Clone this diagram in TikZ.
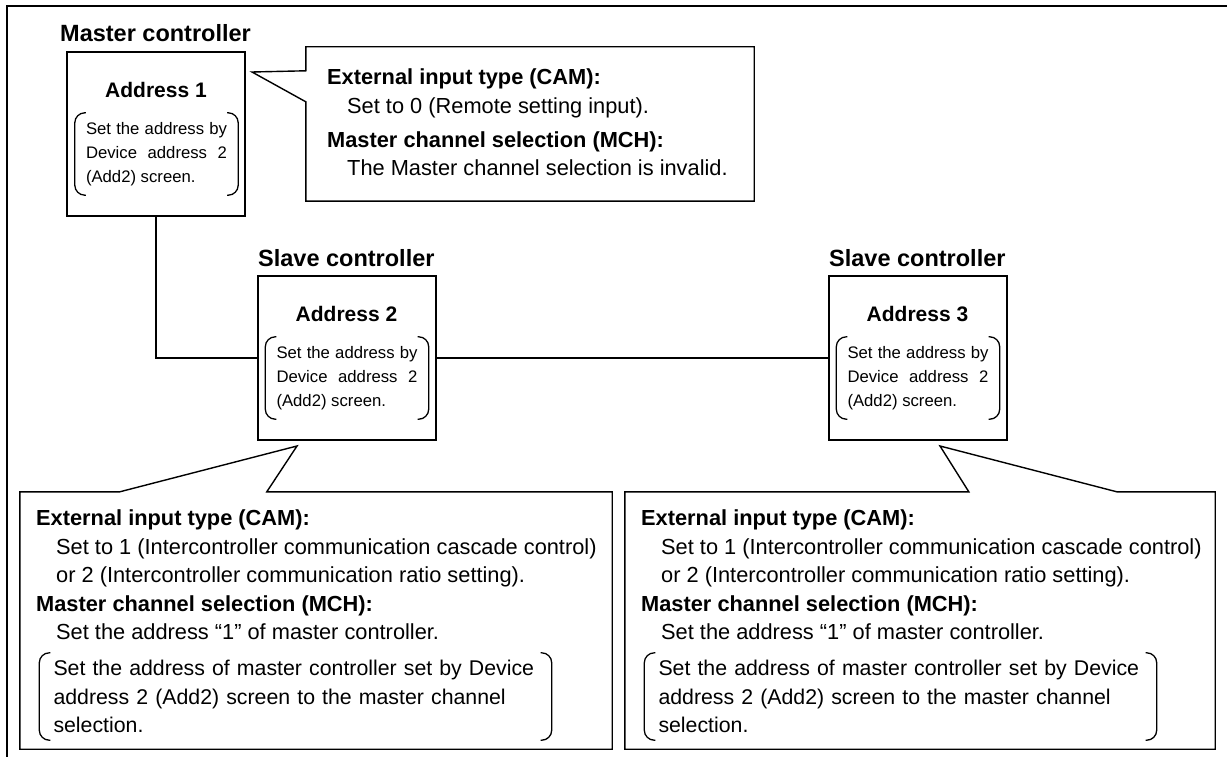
\documentclass[tikz,border=0pt]{standalone}
\usepackage{fontspec}
\setmainfont{Liberation Sans}
\usetikzlibrary{positioning, calc}
\hyphenpenalty=10000
\tikzset{
  frameline/.style={line width=1.4pt},
  ctrlbox/.style={
    rectangle, draw=black, line width=2pt,
    minimum width=178pt, minimum height=164pt, inner sep=0pt,
  },
  ctrltitle/.style={
    anchor=base west, inner sep=0pt,
    font=\fontsize{23.5}{28}\selectfont\bfseries,
  },
  addrlabel/.style={
    anchor=base, inner sep=0pt,
    font=\fontsize{21}{25}\selectfont\bfseries,
  },
  setnote/.style={
    rectangle, text width=141pt, align=justify,
    inner xsep=11pt, inner ysep=0pt,
    minimum width=163pt, minimum height=82pt,
    font=\fontsize{16.7}{24}\selectfont,
  },
  callout/.style={rectangle, inner sep=0pt},
  calloutline/.style={line width=1.4pt, line join=miter},
  calltext/.style={
    anchor=base west, align=left, inner sep=0pt,
    font=\fontsize{21.8}{28.5}\selectfont,
  },
  masternote/.style={
    rectangle, text width=484pt, align=left,
    inner xsep=14pt, inner ysep=0pt,
    minimum width=511pt, minimum height=87pt,
    font=\fontsize{21.3}{28.5}\selectfont,
  },
  bracketline/.style={line width=1.3pt, rounded corners=10pt},
  link/.style={line width=1.4pt},
}
\newcommand{\roundbrackets}[1]{%
  \draw[bracketline] ([xshift=11pt]#1.north west) -- (#1.north west)
    -- (#1.south west) -- ([xshift=11pt]#1.south west);
  \draw[bracketline] ([xshift=-11pt]#1.north east) -- (#1.north east)
    -- (#1.south east) -- ([xshift=-11pt]#1.south east);
}

\begin{document}
\begin{tikzpicture}[x=1pt, y=-1pt]
  \useasboundingbox (0,0) rectangle (1227,757);
  \draw[frameline] (1227,6) -| (7,757);

  % controllers
  \node[ctrlbox] (master) at (156,134) {};
  \node[ctrltitle] (mastertitle) at (60,41.4) {Master controller};
  \node[addrlabel] (addr1) at (156,97.5) {Address 1};
  \node[setnote] (note1) at (156.5,154) {Set the address by Device address 2 (Add2) screen.};

  \node[ctrlbox] (slave2) at (346.5,358) {};
  \node[ctrltitle] (slave2title) at (258,266.4) {Slave controller};
  \node[addrlabel] (addr2) at (346.5,321.5) {Address 2};
  \node[setnote] (note2) at (347,378) {Set the address by Device address 2 (Add2) screen.};

  \node[ctrlbox] (slave3) at (917.5,358) {};
  \node[ctrltitle] (slave3title) at (829,266.4) {Slave controller};
  \node[addrlabel] (addr3) at (917.5,321.5) {Address 3};
  \node[setnote] (note3) at (918,378) {Set the address by Device address 2 (Add2) screen.};

  \roundbrackets{note1}
  \roundbrackets{note2}
  \roundbrackets{note3}

  \draw[link] (master.south) |- (slave2.west);
  \draw[link] (slave2.east) -- (slave3.west);

  % callout of the master controller
  \node[callout, minimum width=448pt, minimum height=154pt] (camtop) at (530,124) {};
  \coordinate (camtoptip) at (252,72);
  \draw[calloutline] (camtop.north west) -- ([yshift=-24pt]camtop.north west) -- (camtoptip)
    -- ([yshift=-55pt]camtop.north west) -- (camtop.south west) -- (camtop.south east)
    -- (camtop.north east) -- cycle;
  \node[calltext] (camtoptext) at (327,175.7) {\textbf{External input type (CAM):}\\
    \hspace*{20pt}Set to 0 (Remote setting input).\\[5.5pt]
    \textbf{Master channel selection (MCH):}\\
    \hspace*{20pt}The Master channel selection is invalid.};

  % callouts of the slave controllers
  \node[callout, minimum width=592pt, minimum height=257pt] (camleft) at (316,620.5) {};
  \coordinate (camlefttip) at (297,446);
  \draw[calloutline] (camleft.north west) -- ([xshift=100pt]camleft.north west) -- (camlefttip)
    -- ([xshift=247pt]camleft.north west) -- (camleft.north east) -- (camleft.south east)
    -- (camleft.south west) -- cycle;
  \node[calltext] (camlefttext) at (36,639.7) {\textbf{External input type (CAM):}\\
    \hspace*{20pt}Set to 1 (Intercontroller communication cascade control)\\
    \hspace*{20pt}or 2 (Intercontroller communication ratio setting).\\
    \textbf{Master channel selection (MCH):}\\
    \hspace*{20pt}Set the address “1” of master controller.};
  \node[masternote] (mchleft) at (295.5,696.5) {Set the address of master controller set by Device address 2 (Add2) screen to the master channel selection.};
  \roundbrackets{mchleft}

  \node[callout, minimum width=590pt, minimum height=257pt] (camright) at (920,620.5) {};
  \coordinate (camrighttip) at (940,446);
  \draw[calloutline] (camright.north west) -- ([xshift=344pt]camright.north west) -- (camrighttip)
    -- ([xshift=492pt]camright.north west) -- (camright.north east) -- (camright.south east)
    -- (camright.south west) -- cycle;
  \node[calltext] (camrighttext) at (641,639.7) {\textbf{External input type (CAM):}\\
    \hspace*{20pt}Set to 1 (Intercontroller communication cascade control)\\
    \hspace*{20pt}or 2 (Intercontroller communication ratio setting).\\
    \textbf{Master channel selection (MCH):}\\
    \hspace*{20pt}Set the address “1” of master controller.};
  \node[masternote] (mchright) at (900.5,696.5) {Set the address of master controller set by Device address 2 (Add2) screen to the master channel selection.};
  \roundbrackets{mchright}
\end{tikzpicture}
\end{document}
